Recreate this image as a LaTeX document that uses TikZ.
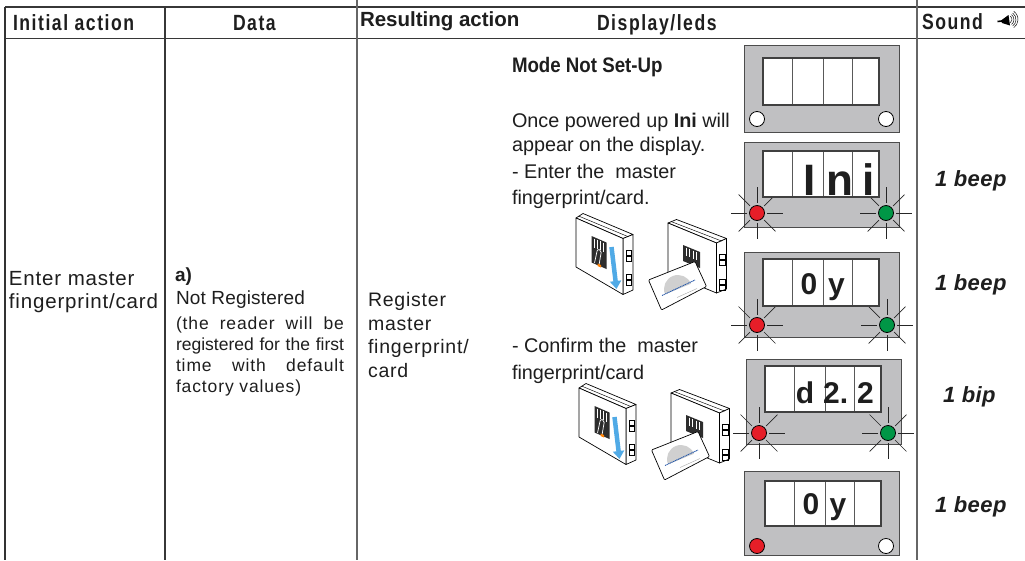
\documentclass[tikz,border=0pt]{standalone}
\usepackage{fontspec}
\setmainfont{Liberation Sans}
\newfontfamily\hdrfont[FakeStretch=0.8,LetterSpace=7]{Liberation Sans}
\newfontfamily\wfont{Liberation Sans}
\newfontfamily\spfont[LetterSpace=4]{Liberation Sans}
\newfontfamily\lsfont[LetterSpace=1]{Liberation Sans}
\newfontfamily\pfont[LetterSpace=5]{Liberation Sans}
\newfontfamily\condfont[FakeStretch=0.89]{Liberation Sans}
\newfontfamily\sndfont[LetterSpace=2]{Liberation Sans}
\usetikzlibrary{arrows.meta}
\definecolor{panelgray}{RGB}{192,192,194}
\definecolor{ledred}{RGB}{230,30,40}
\definecolor{ledgreen}{RGB}{0,150,70}
\definecolor{linegray}{RGB}{55,55,55}
\definecolor{arrowblue}{RGB}{80,170,230}
\definecolor{cardblue}{RGB}{40,90,170}
\definecolor{domegray}{RGB}{208,208,208}
\definecolor{txt}{RGB}{30,30,30}
\definecolor{sensor}{RGB}{45,45,45}

\newcommand\ledrays[2]{\foreach \a in {0,45,...,315}{\draw[ray] (#1,#2) ++(\a:10) -- ++(\a:16);}}
\newcommand\dbox[2]{%
  \filldraw[disp] (763,#1) rectangle (879,#2);
  \foreach \c in {792,823,852}{\draw[cell] (\c,#1) -- (\c,#2);}
  \draw[disp,fill=none] (763,#1) rectangle (879,#2);}
\newcommand\devpair{%
  % fingerprint reader
  \filldraw[dev] (583,213.5) -- (633,234.5) -- (623,238.5) -- (576,218) -- cycle;
  \filldraw[dev] (623,238.5) -- (633,234.5) -- (633,290) -- (623,294.5) -- cycle;
  \filldraw[dev] (576,218) -- (623,238.5) -- (623,294.5) -- (576,267) -- cycle;
  \draw[thinl] (579,216.2) -- (628,236.6);
  \foreach \yy in {250,256.5,274,280.5}{\draw[thinl] (626,\yy) rectangle (631.5,\yy+5);}
  \fill[sensor] (591.5,236) -- (606.5,242.5) -- (606.5,269) -- (591.5,262.5) -- cycle;
  \foreach \sx/\sy in {594/238.6,597/239.9,600/241.2,603/242.5}{\draw[stripe] (\sx,\sy) -- ++(0,9);}
  \draw[white,line width=0.7pt,rounded corners=2pt] (594.5,263) -- (597.5,249) -- (601.5,250.5) -- (599,265);
  \fill[orange] (597.5,263.5) -- (601,265) -- (601,267.5) -- (597.5,266) -- cycle;
  \draw[arrowblue,line width=4.5pt,-{Triangle[width=11pt,length=8pt]}] (611.5,247) -- (616.5,289);
  % card reader
  \filldraw[dev] (676.5,219.5) -- (726.5,238.5) -- (716.5,243) -- (668,223) -- cycle;
  \filldraw[dev] (716.5,243) -- (726.5,238.5) -- (726.5,289) -- (716.5,293) -- cycle;
  \filldraw[dev] (668,223) -- (716.5,243) -- (716.5,293) -- (668,273) -- cycle;
  \draw[thinl] (671,221.5) -- (721.5,241);
  \foreach \yy in {254,260,279,285}{\draw[thinl] (719.5,\yy) rectangle (725,\yy+5);}
  \fill[sensor] (683,245) -- (700,252) -- (700,268) -- (683,261) -- cycle;
  \foreach \sx/\sy in {686/247.7,689.5/249.2,693/250.6,696.5/252.1}{\draw[stripe] (\sx,\sy) -- ++(0,8);}
  % card
  \filldraw[dev,rounded corners=1pt] (648.5,280) -- (695,261.5) -- (706.5,286.5) -- (661.5,310) -- cycle;
  \begin{scope}
    \clip (648.5,280) -- (695,261.5) -- (706.5,286.5) -- (661.5,310) -- cycle;
    \fill[domegray,rotate around={22:(678,289)}] (664,289) arc[start angle=180,end angle=360,radius=14] -- cycle;
  \end{scope}
  \draw[cardblue,line width=0.9pt,dash pattern=on 1.2pt off 0.6pt] (662,295.5) -- (695,280);
  \draw[black!35,line width=0.4pt] (677,297.5) -- (697,288.5);
}

\begin{document}
\begin{tikzpicture}[x=1pt,y=-1pt,
  tline/.style={draw=linegray,line width=1.6pt},
  vline/.style={draw=black!60,line width=1.8pt},
  lbord/.style={draw=black!80,line width=2.6pt},
  txtn/.style={anchor=base west,inner sep=0pt,outer sep=0pt,text=txt},
  hdr/.style={txtn,font=\hdrfont\bfseries\fontsize{22}{24}\selectfont},
  body/.style={txtn,font=\wfont\fontsize{19.8}{22}\selectfont},
  spbody/.style={txtn,font=\spfont\fontsize{20.5}{22}\selectfont},
  rbody/.style={txtn,font=\spfont\fontsize{19.5}{22}\selectfont},
  small/.style={txtn,font=\pfont\fontsize{17.5}{20}\selectfont},
  snd/.style={txtn,font=\sndfont\bfseries\itshape\fontsize{22}{24}\selectfont},
  panel/.style={fill=panelgray,draw=black!70,line width=0.9pt},
  disp/.style={fill=white,draw=black!75,line width=1.2pt},
  cell/.style={draw=black!65,line width=1pt},
  ray/.style={draw=black!85,line width=0.7pt},
  led/.style={circle,draw=black,line width=0.8pt,minimum size=15pt,inner sep=0pt},
  dig/.style={anchor=base,inner sep=0pt,text=txt,font=\wfont\bfseries\fontsize{30}{32}\selectfont},
  dev/.style={draw=black,fill=white,line width=0.7pt,line join=round},
  thinl/.style={draw=black,line width=0.45pt},
  stripe/.style={draw=white,line width=0.8pt}]
\useasboundingbox (0,0) rectangle (1025,560);
\fill[white] (0,0) rectangle (1025,560);

% table rules
\draw[tline] (5,7) -- (1025,7);
\draw[tline] (5,38.5) -- (1025,38.5);
\draw[lbord] (5,7) -- (5,560);
\draw[tline] (165,7) -- (165,560);
\draw[vline] (357,0) -- (357,560);
\draw[vline] (917,0) -- (917,560);

% header
\node[hdr] (hInit) at (13,30.7) {Initial action};
\node[hdr] (hData) at (233,30.7) {Data};
\node[txtn,font=\wfont\bfseries\fontsize{20.5}{22}\selectfont] (hRes) at (360,26.8) {Resulting action};
\node[hdr] (hDisp) at (597,30.3) {Display/leds};
\node[hdr] (hSnd) at (922,29.5) {Sound};
% speaker icon
\draw[black,line width=1.6pt] (997.5,21.5) -- (1002,21);
\fill[black] (1001,20.5) -- (1008.5,15) -- (1010,25.5) -- (1002,23) -- cycle;
\foreach \r in {4,6,8,10}{\draw[black,line width=0.45pt] (1008,19.5) ++(-55:\r) arc[start angle=-55,end angle=55,radius=\r];}

% column 1
\node[spbody] (c1a) at (9,285) {Enter master};
\node[spbody] (c1b) at (9,308) {fingerprint/card};

% column 2
\node[txtn,font=\wfont\bfseries\fontsize{19}{20}\selectfont] (c2a) at (175,281) {a)};
\node[txtn,font=\lsfont\fontsize{19}{20}\selectfont] (c2b) at (176,304) {Not Registered};
\node[small] (c2c) at (176,329) {\makebox[168pt][s]{(the reader will be}};
\node[txtn,font=\wfont\fontsize{17.5}{20}\selectfont] (c2d) at (176,350) {\makebox[168pt][s]{registered for the first}};
\node[small] (c2e) at (176,371) {\makebox[168pt][s]{time with default}};
\node[small] (c2f) at (176,392) {factory values)};

% column 3
\node[rbody] (c3a) at (368,306) {Register};
\node[rbody] (c3b) at (368,330) {master};
\node[rbody] (c3c) at (368,353) {fingerprint/};
\node[rbody] (c3d) at (368,377) {card};

% display texts
\node[txtn,font=\condfont\bfseries\fontsize{21}{22}\selectfont] (dMode) at (512,72) {Mode Not Set-Up};
\node[body] (dT1) at (512,127) {Once powered up \textbf{Ini} will};
\node[body] (dT2) at (512,151) {appear on the display.};
\node[body] (dT3) at (512,178) {- Enter the \ master};
\node[body] (dT4) at (512,204) {fingerprint/card.};
\node[body] (dT5) at (512,352.5) {- Confirm the \ master};
\node[body] (dT6) at (512,379) {fingerprint/card};

% panel 1
\filldraw[panel] (744,45) rectangle (899,132);
\dbox{58}{105}
\node[led,fill=white] (p1l) at (757,119) {};
\node[led,fill=white] (p1r) at (886,119) {};

% panel 2
\filldraw[panel] (744,142) rectangle (899,227);
\ledrays{757}{213}\ledrays{886}{213}
\dbox{151}{197}
\node[dig,font=\wfont\bfseries\fontsize{44}{46}\selectfont] (p2a) at (809.5,195.5) {I};
\node[dig,font=\wfont\bfseries\fontsize{44}{46}\selectfont] (p2b) at (840,195.5) {n};
\node[dig,font=\wfont\bfseries\fontsize{44}{46}\selectfont] (p2c) at (868.5,195.5) {i};
\node[led,fill=ledred] (p2l) at (757,213) {};
\node[led,fill=ledgreen] (p2r) at (886,213) {};

% panel 3
\filldraw[panel] (744,252) rectangle (899,337);
\ledrays{757}{325}\ledrays{887}{325}
\dbox{259}{306}
\node[dig] (p3a) at (809,294) {0};
\node[dig] (p3b) at (836.5,294) {y};
\node[led,fill=ledred] (p3l) at (757,325) {};
\node[led,fill=ledgreen] (p3r) at (887,325) {};

% panel 4
\begin{scope}[shift={(2,0)}]
\filldraw[panel] (744,359) rectangle (899,444);
\ledrays{757}{433}\ledrays{886}{433}
\dbox{366}{412}
\node[dig] (p4a) at (803,403) {d};
\node[dig,anchor=base west] (p4b) at (821,403) {2.};
\node[dig] (p4c) at (863.5,403) {2};
\node[led,fill=ledred] (p4l) at (757,433) {};
\node[led,fill=ledgreen] (p4r) at (886,433) {};
\end{scope}

% panel 5
\filldraw[panel] (744,471) rectangle (899,555);
\begin{scope}[shift={(2,0)}]
\dbox{481}{526}
\end{scope}
\node[dig] (p5a) at (811,514) {0};
\node[dig] (p5b) at (838,514) {y};
\node[led,fill=ledred] (p5l) at (757,546) {};
\node[led,fill=white] (p5r) at (886,546) {};

% readers
\devpair
\begin{scope}[shift={(3,170)}]
\devpair
\end{scope}

% sound column
\node[snd] (s1) at (935,186) {1 beep};
\node[snd] (s2) at (935,290) {1 beep};
\node[snd] (s3) at (943,402) {1 bip};
\node[snd] (s4) at (935,512) {1 beep};
\end{tikzpicture}
\end{document}
